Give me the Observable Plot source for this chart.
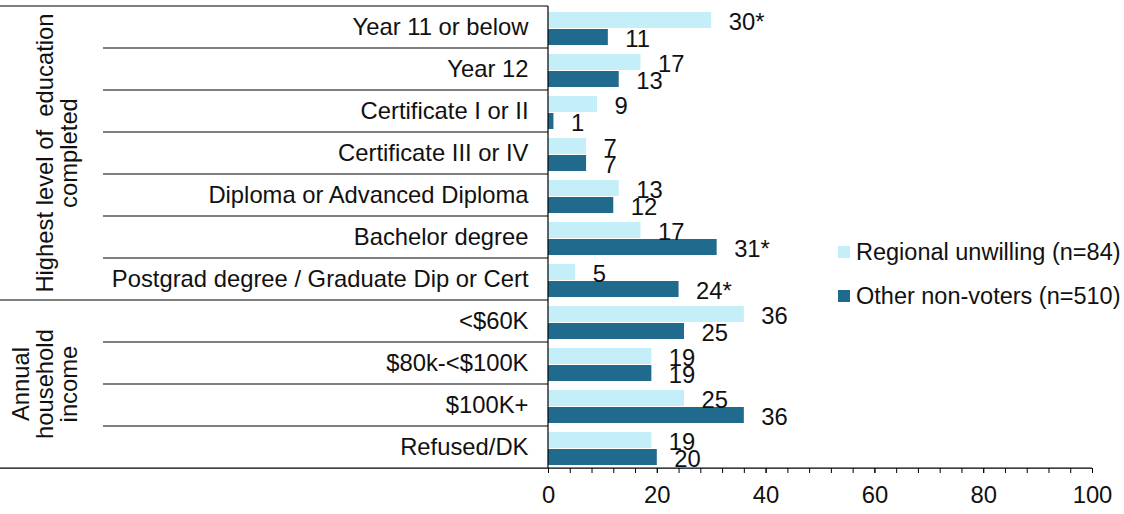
<!DOCTYPE html>
<html>
<head>
<meta charset="utf-8">
<script src="https://cdn.jsdelivr.net/npm/d3@7"></script>
<script src="https://cdn.jsdelivr.net/npm/@observablehq/plot@0.6"></script>
<style>
  html, body { margin: 0; padding: 0; background: #fff; }
  #wrap { position: relative; width: 1124px; height: 514px; font-family: "Liberation Sans", Arial, sans-serif; }
  #legend { position: absolute; left: 838px; top: 230px; font-size: 23.5px; color: #111; }
  #legend .row { display: flex; align-items: center; height: 44px; white-space: nowrap; }
  #legend .sw { width: 12px; height: 12px; margin-right: 6px; flex: none; }
</style>
</head>
<body>
<div id="wrap"></div>
<script>
// ---- data ----
const categories = [
  "Year 11 or below",
  "Year 12",
  "Certificate I or II",
  "Certificate III or IV",
  "Diploma or Advanced Diploma",
  "Bachelor degree",
  "Postgrad degree / Graduate Dip or Cert",
  "<$60K",
  "$80k-<$100K",
  "$100K+",
  "Refused/DK"
];
const seriesNames = ["Regional unwilling (n=84)", "Other non-voters (n=510)"];
const regionalUnwilling = [30, 17, 9, 7, 13, 17, 5, 36, 19, 25, 19];
const otherNonVoters    = [11, 13, 1, 7, 12, 31, 24, 25, 19, 36, 20];
const regionalSig = [true, false, false, false, false, false, false, false, false, false, false];
const otherSig    = [false, false, false, false, false, true, true, false, false, false, false];
const groups = [
  {lines: ["Highest level of\u00a0 education", "completed"], first: 0, last: 6},
  {lines: ["Annual", "household", "income"], first: 7, last: 10}
];
const xTicks = [0, 20, 40, 60, 80, 100];
const colors = ["#c4eef8", "#206a8e"];

// ---- table ----
const rows = [];
categories.forEach((c, i) => {
  rows.push({category: c, series: seriesNames[0], value: regionalUnwilling[i], label: regionalUnwilling[i] + (regionalSig[i] ? "*" : "")});
  rows.push({category: c, series: seriesNames[1], value: otherNonVoters[i], label: otherNonVoters[i] + (otherSig[i] ? "*" : "")});
});

const W = 1124, H = 514, mL = 548, mR = 32, mT = 5, mB = 46;
const FS = 23.8;

const plot = Plot.plot({
  width: W, height: H,
  marginLeft: mL, marginRight: mR, marginTop: mT, marginBottom: mB,
  style: {fontFamily: '"Liberation Sans", Arial, sans-serif', fontSize: FS + "px", color: "#111", background: "#fff"},
  x: {domain: [0, 100]},
  fy: {domain: categories, padding: 0},
  y: {domain: seriesNames, paddingInner: 0.06, paddingOuter: 0.2, align: 0.7, axis: null},
  color: {domain: seriesNames, range: colors},
  marks: [
    Plot.barX(rows, {x: "value", y: "series", fy: "category", fill: "series"}),
    Plot.text(rows, {x: "value", y: "series", fy: "category", text: "label", textAnchor: "start", dx: 17, dy: 1.5, fontSize: FS, fill: "#111"}),
    Plot.axisX({ticks: d3.range(0, 101, 4), tickFormat: () => "", tickSize: 5, stroke: "#000", label: null}),
    Plot.axisX({ticks: xTicks, tickSize: 5, tickPadding: 13, fontSize: FS, stroke: "#000", fill: "#111", label: null}),
    Plot.axisFy({anchor: "left", tickSize: 0, tickPadding: 20, fontSize: FS, fill: "#111", label: null})
  ]
});

// separators, axis lines and group labels drawn from the scales
const svg = d3.select(plot);
const fy = plot.scale("fy");
const xs = plot.scale("x");
const step = (H - mT - mB) / categories.length;
const groupBounds = new Set([0, 7, 11]);
const g = svg.append("g").attr("stroke", "#000").attr("stroke-width", 1.2);
for (let i = 0; i <= categories.length; i++) {
  const y = i < categories.length ? fy.apply(categories[i]) : fy.apply(categories[i - 1]) + step;
  g.append("line")
    .attr("x1", groupBounds.has(i) ? 0 : 103)
    .attr("x2", xs.apply(0))
    .attr("y1", y).attr("y2", y);
}
const yTop = fy.apply(categories[0]);
const yBottom = fy.apply(categories[categories.length - 1]) + step;
g.append("line").attr("x1", xs.apply(0)).attr("x2", xs.apply(100)).attr("y1", yBottom).attr("y2", yBottom);
g.append("line").attr("x1", xs.apply(0)).attr("x2", xs.apply(0)).attr("y1", yTop).attr("y2", yBottom);

const lineH = 24;
groups.forEach(gr => {
  const y0 = fy.apply(categories[gr.first]);
  const y1 = fy.apply(categories[gr.last]) + step;
  const cy = (y0 + y1) / 2;
  const n = gr.lines.length;
  const cx = n === 2 ? 56.5 : 45;
  const t = svg.append("text")
    .attr("transform", `translate(${cx},${cy}) rotate(-90)`)
    .attr("text-anchor", "middle")
    .attr("font-size", FS)
    .attr("fill", "#111")
    .style("white-space", "pre");
  gr.lines.forEach((ln, k) => {
    t.append("tspan").attr("x", 0).attr("y", (k - (n - 1) / 2) * lineH + 8).text(ln);
  });
});

const wrap = document.getElementById("wrap");
wrap.appendChild(plot);

// legend
const legend = document.createElement("div");
legend.id = "legend";
seriesNames.forEach((s, i) => {
  const r = document.createElement("div");
  r.className = "row";
  const sw = document.createElement("div");
  sw.className = "sw";
  sw.style.background = colors[i];
  const tx = document.createElement("span");
  tx.textContent = s;
  r.appendChild(sw); r.appendChild(tx);
  legend.appendChild(r);
});
wrap.appendChild(legend);
</script>
</body>
</html>
